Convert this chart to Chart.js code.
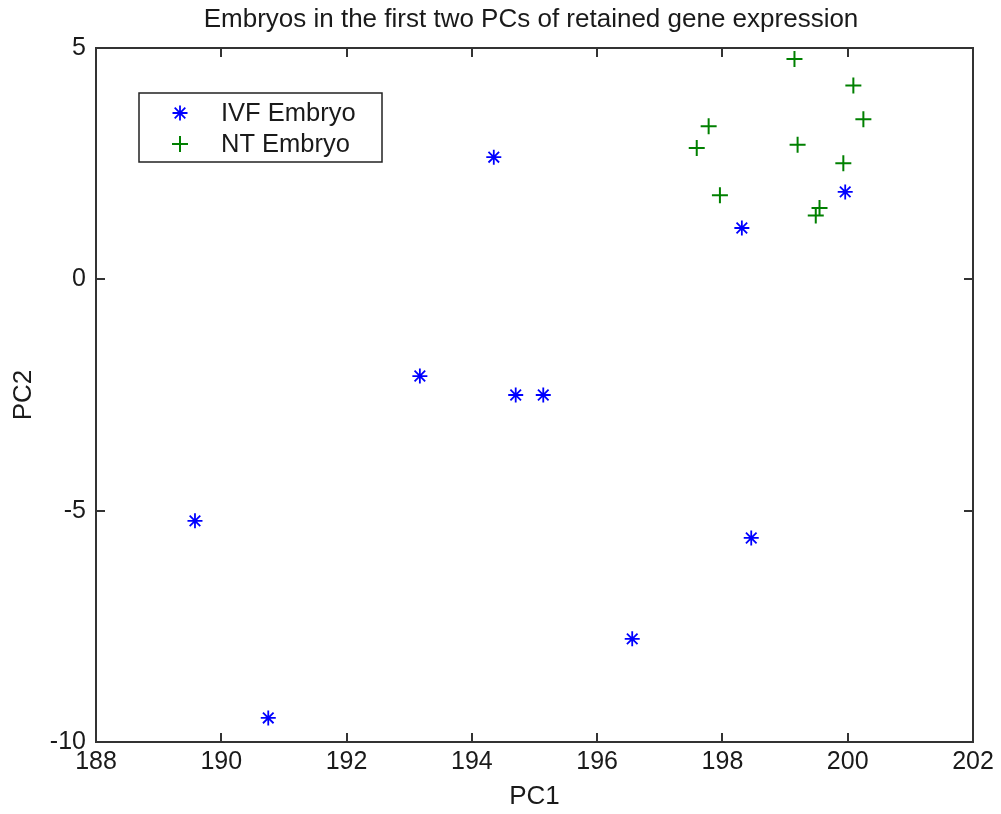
<!DOCTYPE html>
<html>
<head>
<meta charset="utf-8">
<script src="https://cdn.jsdelivr.net/npm/chart.js@4"></script>
<style>
  body { margin: 0; background: #fff; }
  canvas { display: block; }
</style>
</head>
<body>
<canvas id="myChart" width="1001" height="814"></canvas>
<script>
'use strict';

// values (PC1, PC2)
let ivfPC1 = [194.35, 198.31, 199.96, 193.17, 194.70, 195.14, 189.58, 198.46, 196.56, 190.75];
let ivfPC2 = [2.64, 1.11, 1.89, -2.09, -2.50, -2.50, -5.22, -5.59, -7.77, -9.48];

let ntPC1 = [199.15, 200.09, 200.25, 197.78, 197.59, 199.20, 199.93, 197.96, 199.55, 199.49];
let ntPC2 = [4.76, 4.19, 3.46, 3.31, 2.84, 2.91, 2.51, 1.82, 1.54, 1.38];

let xTicks = [188, 190, 192, 194, 196, 198, 200, 202];
let yTicks = [-10, -5, 0, 5];

let seriesNames = ['IVF Embryo', 'NT Embryo'];
let chartTitle = 'Embryos in the first two PCs of retained gene expression';

let fontFamily = '"Liberation Sans", Arial, Helvetica, sans-serif';
let textColor = '#1a1a1a';
let axisColor = '#333333';

function toPoints(xs, ys) {
  let pts = [];
  for (let i = 0; i < xs.length; i++) {
    pts.push({ x: xs[i], y: ys[i] });
  }
  return pts;
}

// frame, inside ticks on all four sides, title and the boxed legend
const matlabAxes = {
  id: 'matlabAxes',
  beforeDatasetsDraw(chart) {
    const ctx = chart.ctx;
    const a = chart.chartArea;
    const xs = chart.scales.x;
    const ys = chart.scales.y;
    const tl = 9;
    ctx.save();
    ctx.strokeStyle = axisColor;
    ctx.lineWidth = 2;
    ctx.strokeRect(a.left, a.top, a.right - a.left, a.bottom - a.top);
    ctx.beginPath();
    xTicks.forEach(v => {
      let px = Math.round(xs.getPixelForValue(v));
      ctx.moveTo(px, a.bottom); ctx.lineTo(px, a.bottom - tl);
      ctx.moveTo(px, a.top); ctx.lineTo(px, a.top + tl);
    });
    yTicks.forEach(v => {
      let py = Math.round(ys.getPixelForValue(v));
      ctx.moveTo(a.left, py); ctx.lineTo(a.left + tl, py);
      ctx.moveTo(a.right, py); ctx.lineTo(a.right - tl, py);
    });
    ctx.stroke();

    ctx.fillStyle = textColor;
    ctx.font = '26px ' + fontFamily;
    ctx.textAlign = 'center';
    ctx.textBaseline = 'middle';
    ctx.fillText(chartTitle, 531, 20);
    ctx.restore();
  },
  afterDatasetsDraw(chart) {
    const ctx = chart.ctx;
    const box = { x: 139, y: 93, w: 243, h: 69 };
    ctx.save();
    ctx.fillStyle = '#fff';
    ctx.fillRect(box.x, box.y, box.w, box.h);
    ctx.strokeStyle = '#222';
    ctx.lineWidth = 1.5;
    ctx.strokeRect(box.x, box.y, box.w, box.h);
    chart.data.datasets.forEach((ds, i) => {
      let cy = box.y + 20 + i * 31;
      ctx.strokeStyle = ds.borderColor;
      ctx.fillStyle = ds.borderColor;
      ctx.lineWidth = ds.borderWidth;
      Chart.helpers.drawPoint(ctx, {
        pointStyle: ds.pointStyle,
        radius: ds.pointRadius,
        borderWidth: ds.borderWidth,
        rotation: 0
      }, 180, cy);
      ctx.fillStyle = textColor;
      ctx.font = '25.5px ' + fontFamily;
      ctx.textAlign = 'left';
      ctx.textBaseline = 'middle';
      ctx.fillText(ds.label, 221, cy + 1);
    });
    ctx.restore();
  }
};

const data = {
  datasets: [
    {
      label: seriesNames[0],
      data: toPoints(ivfPC1, ivfPC2),
      pointStyle: 'star',
      pointRadius: 7.5,
      borderWidth: 1.8,
      borderColor: '#0000ff',
      backgroundColor: '#0000ff'
    },
    {
      label: seriesNames[1],
      data: toPoints(ntPC1, ntPC2),
      pointStyle: 'cross',
      pointRadius: 8,
      borderWidth: 2,
      borderColor: '#008000',
      backgroundColor: '#008000'
    }
  ]
};

const config = {
  type: 'scatter',
  data: data,
  plugins: [matlabAxes],
  options: {
    responsive: false,
    animation: false,
    layout: { padding: { top: 48, right: 28, left: 0, bottom: 0 } },
    plugins: {
      legend: { display: false },
      title: { display: false },
      tooltip: { enabled: false }
    },
    scales: {
      x: {
        type: 'linear',
        min: 188,
        max: 202,
        afterFit: scale => { scale.height = 72; },
        afterBuildTicks: scale => { scale.ticks = xTicks.map(v => ({ value: v })); },
        grid: { display: false, drawTicks: false },
        border: { display: false },
        ticks: {
          padding: 5,
          color: textColor,
          font: { family: fontFamily, size: 25 },
          maxRotation: 0
        },
        title: {
          display: true,
          text: 'PC1',
          color: textColor,
          font: { family: fontFamily, size: 26 },
          padding: { top: 0, bottom: 2 }
        }
      },
      y: {
        type: 'linear',
        min: -10,
        max: 5,
        afterFit: scale => { scale.width = 96; },
        afterBuildTicks: scale => { scale.ticks = yTicks.map(v => ({ value: v })); },
        grid: { display: false, drawTicks: false },
        border: { display: false },
        ticks: {
          padding: 10,
          color: textColor,
          font: { family: fontFamily, size: 25 }
        },
        title: {
          display: true,
          text: 'PC2',
          color: textColor,
          font: { family: fontFamily, size: 26 },
          padding: { top: 8, bottom: 0 }
        }
      }
    }
  }
};

const myChart = new Chart(document.getElementById('myChart'), config);
</script>
</body>
</html>
